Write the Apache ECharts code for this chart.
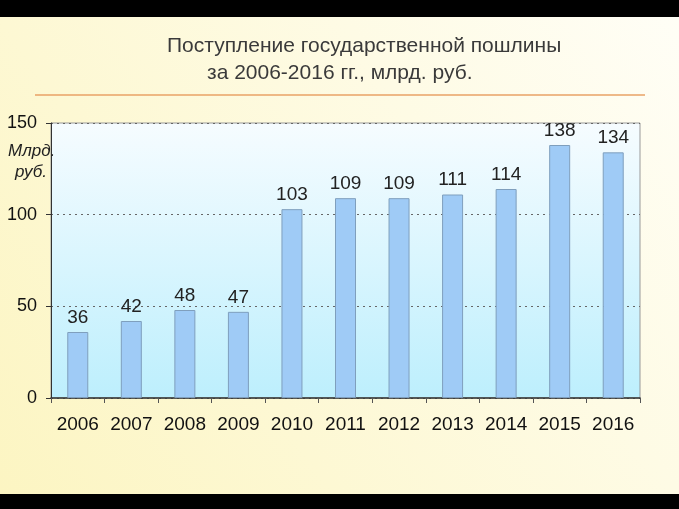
<!DOCTYPE html>
<html><head><meta charset="utf-8">
<script src="https://cdn.jsdelivr.net/npm/echarts@6/dist/echarts.min.js"></script>
<style>html,body{margin:0;padding:0;background:#000}#c{width:679px;height:509px}</style>
</head><body><div id="c"></div>
<script>
const categories = ['2006','2007','2008','2009','2010','2011','2012','2013','2014','2015','2016'];
const values = [36,42,48,47,103,109,109,111,114,138,134];
const yTicks = [0,50,100,150];
const titleLine1 = 'Поступление государственной пошлины';
const titleLine2 = 'за 2006-2016 гг., млрд. руб.';
const unitLabel = ['Млрд.', 'руб.'];

const FF = '"Liberation Sans", Arial, sans-serif';
const chart = echarts.init(document.getElementById('c'));
chart.setOption({
  animation: false,
  backgroundColor: 'transparent',
  graphic: [
    {type:'rect', z:-10, shape:{x:0,y:17,width:679,height:477},
     style:{fill:{type:'linear',x:1,y:0,x2:0,y2:1,colorStops:[{offset:0,color:'#fffef6'},{offset:1,color:'#fcf5c2'}]}}},
    {type:'text', z:100, left:167, top:36, style:{text:titleLine1, font:'21px '+FF, fill:'#3a3a3a'}},
    {type:'text', z:100, left:207, top:63, style:{text:titleLine2, font:'21px '+FF, fill:'#3a3a3a'}},
    {type:'line', z:100, shape:{x1:35,y1:95,x2:645,y2:95}, style:{stroke:'#e8a266', lineWidth:1.5}},
    {type:'text', zlevel:1, z:100, left:8, top:143, style:{text:unitLabel[0], font:'italic 17px '+FF, fill:'#222'}},
    {type:'text', zlevel:1, z:100, left:15, top:164, style:{text:unitLabel[1], font:'italic 17px '+FF, fill:'#222'}}
  ],
  grid: {left:51, right:39, top:123, bottom:111, show:true, borderColor:'#999', borderWidth:1,
    backgroundColor:{type:'linear',x:0,y:0,x2:0,y2:1,colorStops:[{offset:0,color:'#f6fcff'},{offset:1,color:'#bdeffd'}]}},
  xAxis: {type:'category', data:categories,
    axisLine:{lineStyle:{color:'#333', width:1.5}},
    axisTick:{show:true, length:5, interval:0, lineStyle:{color:'#555'}},
    axisLabel:{color:'#111', fontSize:19, margin:17, interval:0, fontFamily:FF}},
  yAxis: {type:'value', min:0, max:150, interval:50,
    axisLine:{show:true, lineStyle:{color:'#333', width:1}},
    axisTick:{show:true, length:5, lineStyle:{color:'#333'}},
    splitLine:{lineStyle:{color:'#666', type:[2,4], width:1}},
    axisLabel:{color:'#111', fontSize:18, margin:14, fontFamily:FF,
      formatter: v => yTicks.includes(v) ? String(v) : ''}},
  series: [{type:'bar', data:values, barWidth:21,
    itemStyle:{color:'#9fcbf6', borderColor:'#7f9fbd', borderWidth:1},
    label:{show:true, position:'top', distance:5, color:'#222', fontSize:19, fontFamily:FF}}]
});
</script></body></html>
